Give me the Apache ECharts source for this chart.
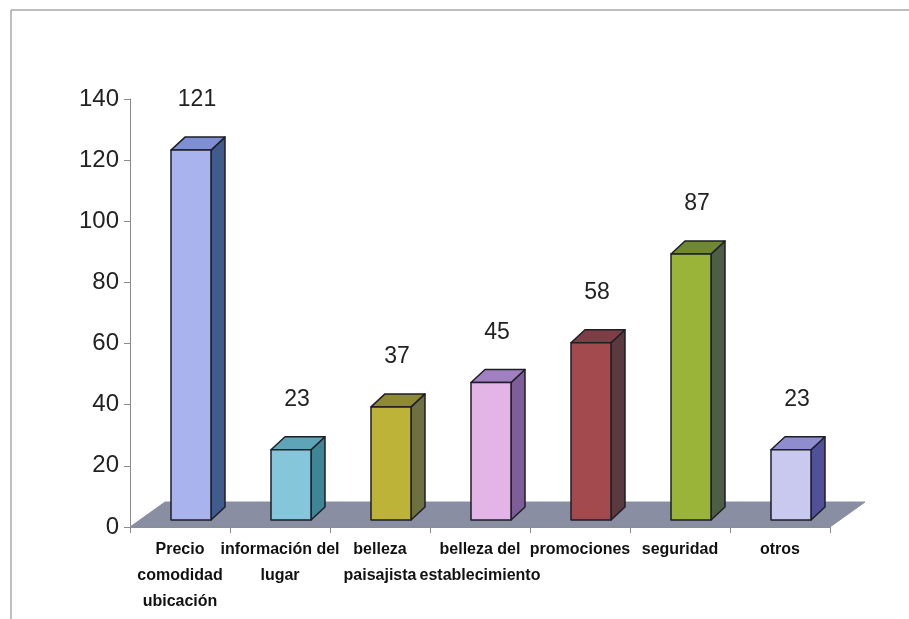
<!DOCTYPE html>
<html>
<head>
<meta charset="utf-8">
<script src="https://cdn.jsdelivr.net/npm/echarts@6/dist/echarts.min.js"></script>
<style>
  html, body { margin: 0; padding: 0; background: #fff; }
  #chart { width: 909px; height: 619px; }
</style>
</head>
<body>
<div id="chart"></div>
<script>
// Categories (with line breaks as shown under the axis)
var categories = [
  'Precio\ncomodidad\nubicación',
  'información del\nlugar',
  'belleza\npaisajista',
  'belleza del\nestablecimiento',
  'promociones',
  'seguridad',
  'otros'
];
var values = [121, 23, 37, 45, 58, 87, 23];
var yTicks = [0, 20, 40, 60, 80, 100, 120, 140];

// Face colours per bar: front, side, top
var frontColors = ['#A9B3EE', '#86C6DA', '#BDB338', '#E3B5E6', '#A24A4E', '#9AB43A', '#C9C8EE'];
var sideColors  = ['#3F5C8C', '#3F8595', '#6E7040', '#7E5E98', '#5A3A3E', '#4E5E44', '#53509A'];
var topColors   = ['#7F8FD6', '#5FA5B8', '#8E8A30', '#A080C0', '#7D3E45', '#708830', '#8F8CD0'];

var chart = echarts.init(document.getElementById('chart'), null, { renderer: 'canvas' });

var BAR_DX = 14, BAR_DY = -13;     // bar depth
var FLOOR_DX = 35, FLOOR_DY = -25; // floor depth
var BAR_LIFT = 7, BAR_SHIFT = 11;  // bars sit mid-floor

function renderBar(params, api) {
  var i = api.value(0);
  var v = api.value(1);
  var base = api.coord([i, 0]);
  var top = api.coord([i, v]);
  var band = api.size([1, 0])[0];
  var w = band * 0.4;
  var cx = base[0] + BAR_SHIFT;
  var x0 = cx - w / 2, x1 = cx + w / 2;
  var yb = base[1] - BAR_LIFT, yt = top[1] - BAR_LIFT;
  var stroke = { stroke: '#1e1e28', lineWidth: 1.5, lineJoin: 'round' };
  return {
    type: 'group',
    children: [
      {
        type: 'polygon',
        shape: { points: [[x1, yt], [x1 + BAR_DX, yt + BAR_DY], [x1 + BAR_DX, yb + BAR_DY], [x1, yb]] },
        style: Object.assign({ fill: sideColors[i] }, stroke)
      },
      {
        type: 'polygon',
        shape: { points: [[x0, yt], [x0 + BAR_DX, yt + BAR_DY], [x1 + BAR_DX, yt + BAR_DY], [x1, yt]] },
        style: Object.assign({ fill: topColors[i] }, stroke)
      },
      {
        type: 'rect',
        shape: { x: x0, y: yt, width: w, height: yb - yt },
        style: Object.assign({ fill: frontColors[i] }, stroke)
      },
      {
        type: 'text',
        x: cx + 6,
        y: yt - 50,
        style: {
          text: String(v),
          fill: '#222222',
          font: '23px "Liberation Sans", Arial, sans-serif',
          align: 'center',
          verticalAlign: 'middle'
        }
      }
    ]
  };
}

function renderFloor(params, api) {
  if (params.dataIndex !== 0) return null;
  var a = api.coord([0, 0]);
  var b = api.coord([categories.length - 1, 0]);
  var band = api.size([1, 0])[0];
  var xl = a[0] - band / 2, xr = b[0] + band / 2, y = a[1];
  return {
    type: 'polygon',
    shape: { points: [[xl, y], [xl + FLOOR_DX, y + FLOOR_DY], [xr + FLOOR_DX, y + FLOOR_DY], [xr, y]] },
    style: { fill: '#8A8EA2', stroke: '#8A8EA2', lineWidth: 1 }
  };
}

var option = {
  backgroundColor: '#ffffff',
  animation: false,
  grid: { left: 130, right: 79, top: 99, bottom: 92, containLabel: false },
  xAxis: {
    type: 'category',
    data: categories,
    boundaryGap: true,
    axisLine: { lineStyle: { color: '#8a8a8a', width: 1 } },
    axisTick: { show: true, length: 6, alignWithLabel: false, lineStyle: { color: '#8a8a8a' } },
    axisLabel: {
      interval: 0,
      margin: 10,
      color: '#111111',
      fontFamily: '"Liberation Sans", Arial, sans-serif',
      fontWeight: 'bold',
      fontSize: 16,
      lineHeight: 26
    },
    splitLine: { show: false }
  },
  yAxis: {
    type: 'value',
    min: yTicks[0],
    max: yTicks[yTicks.length - 1],
    interval: yTicks[1] - yTicks[0],
    axisLine: { show: true, lineStyle: { color: '#8a8a8a', width: 1 } },
    axisTick: { show: true, length: 6, lineStyle: { color: '#8a8a8a' } },
    axisLabel: {
      margin: 11,
      color: '#222222',
      fontFamily: '"Liberation Sans", Arial, sans-serif',
      fontSize: 24
    },
    splitLine: { show: false }
  },
  graphic: [
    { type: 'line', shape: { x1: 11, y1: 10, x2: 909, y2: 10 }, style: { stroke: '#a8a8a8', lineWidth: 1.5 }, silent: true },
    { type: 'line', shape: { x1: 11, y1: 10, x2: 11, y2: 619 }, style: { stroke: '#a8a8a8', lineWidth: 1.5 }, silent: true }
  ],
  series: [
    {
      type: 'custom',
      name: 'floor',
      renderItem: renderFloor,
      data: values.map(function (v, i) { return [i, 0]; }),
      z: 1,
      silent: true
    },
    {
      type: 'custom',
      name: 'barras',
      renderItem: renderBar,
      data: values.map(function (v, i) { return [i, v]; }),
      z: 2
    }
  ]
};

chart.setOption(option);
</script>
</body>
</html>
